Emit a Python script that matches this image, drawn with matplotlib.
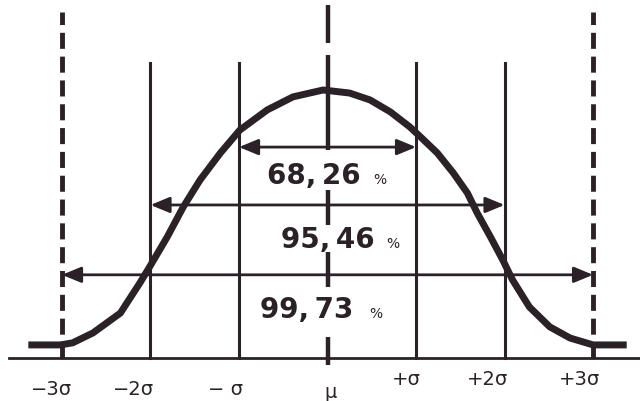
import matplotlib.pyplot as plt

# positions in units of sigma, heights relative to the curve peak
sigma_lines = [-3, -2, -1, 1, 2, 3]
tick_pos = [-3.12, -2.19, -1.15, 0.03, 0.89, 1.81, 2.85]
tick_labels = ["\u22123\u03c3", "\u22122\u03c3", "\u2212 \u03c3", "\u03bc", "+\u03c3", "+2\u03c3", "+3\u03c3"]
tick_y = [-0.176, -0.176, -0.176, -0.186, -0.137, -0.137, -0.137]

# curve
curve_x = [-3.38, -3.02, -2.88, -2.65, -2.34, -2.12, -2.01, -1.81, -1.63, -1.44, -1.21,
           -0.99, -0.68, -0.39, -0.05, 0.25, 0.48, 0.71, 0.93, 1.05, 1.24, 1.42, 1.58,
           1.69, 1.84, 1.98, 2.09, 2.28, 2.51, 2.74, 3.0, 3.38]
curve_y = [0.0, 0.0, 0.008, 0.047, 0.125, 0.243, 0.306, 0.424, 0.541, 0.647, 0.753,
           0.843, 0.922, 0.973, 1.0, 0.988, 0.961, 0.914, 0.855, 0.816, 0.753, 0.675, 0.596,
           0.518, 0.424, 0.333, 0.255, 0.149, 0.071, 0.027, 0.0, 0.0]

# percentage bands: half-width in sigma, arrow height, label
band_width = [1, 2, 3]
band_level = [0.776, 0.549, 0.275]
band_labels = ["68,\u200926", "95,\u200946", "99,\u200973"]
label_x = [-0.16, 0.0, -0.23]
label_y = [0.663, 0.41, 0.137]
pct_x = [0.59, 0.74, 0.54]

# segments of the broken centre line (mu)
mu_segments = [(1.184, 1.333), (0.765, 1.137), (0.471, 0.608), (0.227, 0.365), (-0.078, 0.031)]

ink = "#2b2228"

fig = plt.figure(figsize=(6.4, 4.01), dpi=100)
ax = fig.add_axes([0, 0, 1, 1])
ax.set_xlim(-3.70, 3.53)
ax.set_ylim(-0.22, 1.353)
ax.axis("off")

# base line
ax.plot([-3.60, 3.53], [-0.051, -0.051], color=ink, lw=2.0)

# solid sigma lines and dashed 3 sigma lines
for s in sigma_lines:
    if abs(s) == 3:
        ax.plot([s, s], [-0.051, 1.306], color=ink, lw=3.5, linestyle=(0, (3.3, 1.6)))
    else:
        ax.plot([s, s], [-0.051, 1.106], color=ink, lw=2.2)

for y0, y1 in mu_segments:
    ax.plot([0, 0], [y0, y1], color=ink, lw=3.2, solid_capstyle="butt")

# the curve
ax.plot(curve_x, curve_y, color=ink, lw=5, solid_joinstyle="round", solid_capstyle="butt", zorder=5)

# arrows and percentages
for w, lvl, lab, lx, ly, px in zip(band_width, band_level, band_labels, label_x, label_y, pct_x):
    ax.annotate("", xy=(w, lvl), xytext=(-w, lvl),
                arrowprops=dict(arrowstyle="<|-|>,head_length=0.58,head_width=0.24",
                                mutation_scale=20, color=ink, lw=2.0, shrinkA=0, shrinkB=0))
    ax.text(lx, ly, lab, ha="center", va="center", fontsize=20, fontweight="bold", color=ink)
    ax.text(px, ly - 0.015, "%", ha="center", va="center", fontsize=10, color=ink)

for x, y, lab in zip(tick_pos, tick_y, tick_labels):
    ax.text(x, y, lab, ha="center", va="center", fontsize=14, color=ink)

fig.savefig("out.png", dpi=100, facecolor="white")
